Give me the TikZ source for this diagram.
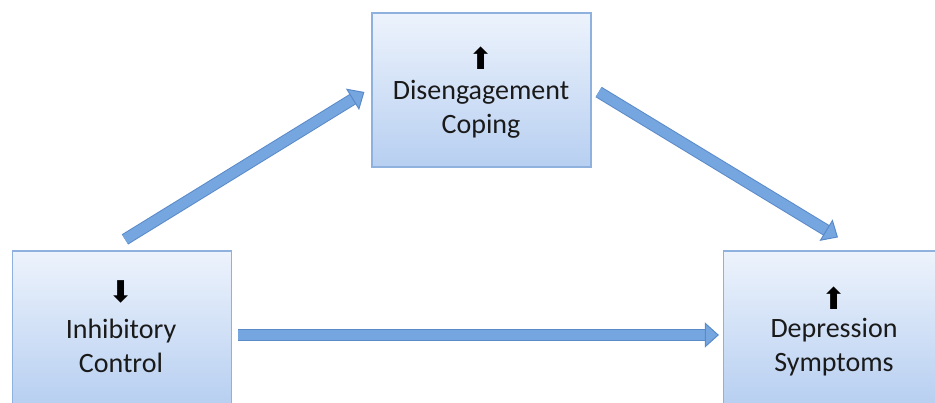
\documentclass[tikz,border=0pt]{standalone}
\usepackage{fontspec}
\setmainfont{Carlito}
\newfontfamily\symfont{DejaVu Sans}
\usetikzlibrary{arrows.meta}
\definecolor{boxtop}{HTML}{EDF3FC}
\definecolor{boxbot}{HTML}{B7CFF1}
\definecolor{boxline}{HTML}{8FB1DD}
\definecolor{arrfill}{HTML}{76A6E0}
\definecolor{arrline}{HTML}{5A8AC8}
\definecolor{txt}{HTML}{1A1A1A}
\begin{document}
\begin{tikzpicture}[x=1pt,y=-1pt,
  boxnode/.style={draw=boxline, line width=1.2pt, top color=boxtop, bottom color=boxbot,
    minimum width=219pt, minimum height=154pt, inner sep=0pt},
  lbl/.style={font=\fontsize{28}{34}\selectfont, text=txt, align=center, inner sep=0pt},
  sym/.style={font=\symfont\fontsize{30}{30}\selectfont, text=black, inner sep=0pt},
  flow/.style={draw=arrfill, line width=10pt,
    preaction={draw=arrline, line width=12pt, shorten >=12pt, -},
    -{Triangle[length=14pt,width=25pt,fill=arrfill,color=arrline,line width=1pt]}}
]
\useasboundingbox (0,0) rectangle (935,403);
\begin{scope}
\clip (0,0) rectangle (935,403);
\node[boxnode] (dc) at (481.5,90) {};
\node[boxnode] (ic) at (122,328) {};
\node[boxnode] (ds) at (833,328) {};

\node[sym] (dcs) at (481,58) {⬆};
\node[lbl, anchor=base] (dct) at (481,134) {Disengagement\\Coping};

\node[sym] (ics) at (121,292) {⬇};
\node[lbl, anchor=base] (ict) at (121,373) {Inhibitory\\Control};

\node[sym] (dss) at (834,298) {⬆};
\node[lbl, anchor=base] (dst) at (834,372) {Depression\\Symptoms};

\draw[flow] ([xshift=3pt,yshift=11pt]ic.north) -- ([xshift=-7pt,yshift=-2pt]dc.west);
\draw[flow] ([xshift=7pt,yshift=-2pt]dc.east) -- ([xshift=5pt,yshift=13pt]ds.north);
\draw[flow] ([xshift=6pt,yshift=-7pt]ic.east) -- ([xshift=-4pt,yshift=-7pt]ds.west);
\end{scope}
\end{tikzpicture}
\end{document}
